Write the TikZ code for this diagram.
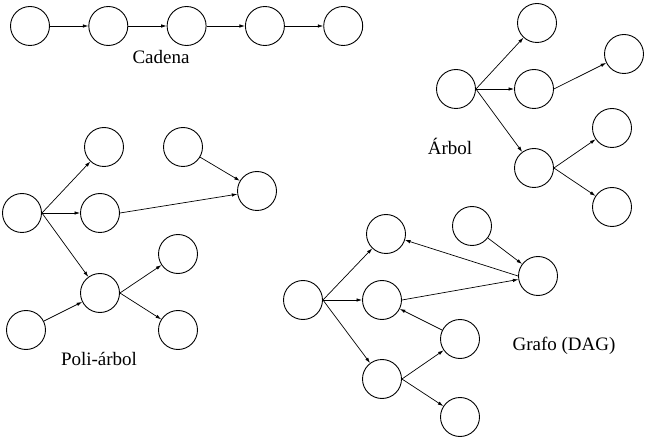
\documentclass[tikz,border=0pt]{standalone}
\usepackage{fontspec}
\setmainfont{Liberation Serif}
\usetikzlibrary{arrows.meta}

\begin{document}
\begin{tikzpicture}[x=1pt, y=-1pt,
    vert/.style={circle, draw, line width=0.9pt, minimum size=39pt, inner sep=0pt},
    arc/.style={-{Latex[length=5.5pt,width=3.5pt]}, line width=0.7pt},
    lbl/.style={font=\fontsize{19}{22}\selectfont, inner sep=0pt}]
    \useasboundingbox (0,0) rectangle (645,438);
    % Cadena
    \foreach \i in {1,...,5} {
        \node[vert] (c\i) at (30+78.3*\i-78.3,26) {};
    }
    \foreach \i in {1,...,4} {
        \pgfmathtruncatemacro{\nxt}{\i+1}
        \draw[arc] (c\i) -- (c\nxt);
    }
    \node[lbl] (cadena) at (161,57) {Cadena};
    % Arbol
    \node[vert] (a0) at (456,89) {};
    \node[vert] (a1) at (537,23) {};
    \node[vert] (a2) at (534,89) {};
    \node[vert] (a3) at (534,168) {};
    \node[vert] (a4) at (624,54) {};
    \node[vert] (a5) at (612,128) {};
    \node[vert] (a6) at (612,207) {};
    \foreach \t in {a1,a2,a3} {
        \draw[arc] (a0.east) -- (\t);
    }
    \draw[arc] (a2.east) -- (a4);
    \draw[arc] (a3.east) -- (a5);
    \draw[arc] (a3.east) -- (a6);
    \node[lbl] (arbol) at (450,146) {Árbol};
    % Poli-arbol
    \node[vert] (p0) at (22,213) {};
    \node[vert] (p1) at (104,147) {};
    \node[vert] (p2) at (100,213) {};
    \node[vert] (p3) at (100,293) {};
    \node[vert] (p4) at (183,147) {};
    \node[vert] (p5) at (257,191) {};
    \node[vert] (p6) at (178,254) {};
    \node[vert] (p7) at (178,330) {};
    \node[vert] (p8) at (26,330) {};
    \foreach \t in {p1,p2,p3} {
        \draw[arc] (p0.east) -- (\t);
    }
    \draw[arc] (p4) -- (p5);
    \draw[arc] (p2.east) -- (p5);
    \draw[arc] (p3.east) -- (p6);
    \draw[arc] (p3.east) -- (p7);
    \draw[arc] (p8) -- (p3);
    \node[lbl] (poli) at (99,359) {Poli-árbol};
    % Grafo (DAG)
    \node[vert] (g0) at (303,300) {};
    \node[vert] (g1) at (386,234) {};
    \node[vert] (g2) at (382,300) {};
    \node[vert] (g3) at (382,379) {};
    \node[vert] (g4) at (472,226) {};
    \node[vert] (g5) at (538,276) {};
    \node[vert] (g6) at (460,339) {};
    \node[vert] (g7) at (460,417) {};
    \foreach \t in {g1,g2,g3} {
        \draw[arc] (g0.east) -- (\t);
    }
    \draw[arc] (g4) -- (g5);
    \draw[arc] (g5.west) -- (g1);
    \draw[arc] (g2.east) -- (g5);
    \draw[arc] (g6) -- (g2);
    \draw[arc] (g3.east) -- (g6);
    \draw[arc] (g3.east) -- (g7);
    \node[lbl] (grafo) at (564,346) {Grafo (DAG)};
\end{tikzpicture}
\end{document}
